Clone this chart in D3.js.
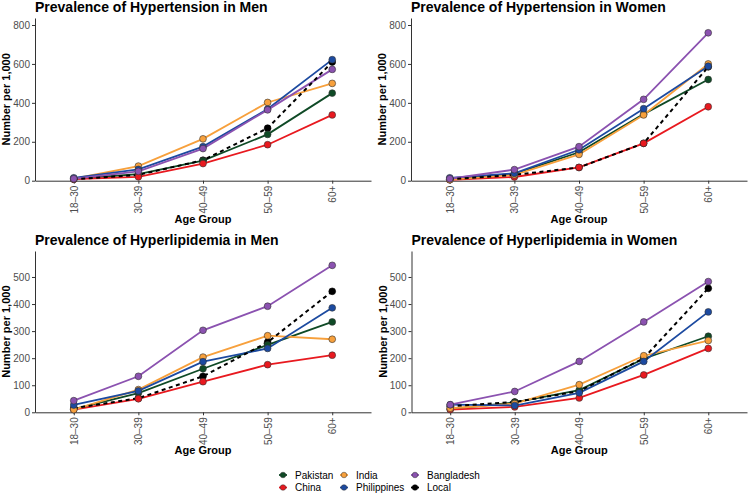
<!DOCTYPE html>
<html>
<head>
<meta charset="utf-8">
<script src="https://cdn.jsdelivr.net/npm/d3@7"></script>
<style>
  html, body { margin: 0; padding: 0; background: #fff; }
  svg { display: block; font-family: "Liberation Sans", Arial, Helvetica, sans-serif; }
</style>
</head>
<body>
<svg id="chart" width="750" height="494"></svg>
<script>
// ---------------- DATA ----------------
const ageGroups = ["18–30", "30–39", "40–49", "50–59", "60+"];
const countries = ["Pakistan", "China", "India", "Philippines", "Bangladesh", "Local"];
const legendOrder = ["Pakistan", "India", "Bangladesh", "China", "Philippines", "Local"];
const colors = ["#0f4a26", "#e8191f", "#f7a03c", "#1c4aa0", "#8b52b0", "#000000"];

const hypertensionTicks = [0, 200, 400, 600, 800];
const hyperlipidemiaTicks = [0, 100, 200, 300, 400, 500];

const hypertensionMen = {
  Pakistan:    [10, 34, 103, 238, 450],
  China:       [8, 20, 88, 185, 338],
  India:       [10, 75, 215, 402, 500],
  Philippines: [15, 58, 175, 368, 622],
  Bangladesh:  [10, 48, 165, 364, 572],
  Local:       [8, 30, 105, 270, 610]
};
const hypertensionWomen = {
  Pakistan:    [8, 35, 146, 342, 520],
  China:       [5, 19, 68, 192, 380],
  India:       [5, 30, 135, 338, 600],
  Philippines: [15, 38, 159, 370, 588],
  Bangladesh:  [10, 57, 175, 418, 760],
  Local:       [8, 30, 68, 192, 585]
};
const hyperlipidemiaMen = {
  Pakistan:    [12, 71, 161, 249, 334],
  China:       [10, 50, 113, 176, 211],
  India:       [10, 84, 204, 283, 270],
  Philippines: [27, 79, 187, 236, 386],
  Bangladesh:  [43, 133, 303, 392, 543],
  Local:       [15, 52, 133, 259, 447]
};
const hyperlipidemiaWomen = {
  Pakistan:    [12, 37, 82, 198, 281],
  China:       [10, 20, 53, 138, 236],
  India:       [15, 32, 102, 209, 265],
  Philippines: [28, 25, 72, 188, 371],
  Bangladesh:  [28, 77, 188, 334, 483],
  Local:       [22, 38, 78, 200, 458]
};

// ---------------- LAYOUT ----------------
const svg = d3.select("#chart");
const color = d3.scaleOrdinal().domain(countries).range(colors);

const panels = [
  { title: "Prevalence of Hypertension in Men", data: hypertensionMen, ticks: hypertensionTicks, ymax: 836,
    x0: 35, x1: 371, y0: 18, y1: 180.7 },
  { title: "Prevalence of Hypertension in Women", data: hypertensionWomen, ticks: hypertensionTicks, ymax: 836,
    x0: 411, x1: 747, y0: 18, y1: 180.7 },
  { title: "Prevalence of Hyperlipidemia in Men", data: hyperlipidemiaMen, ticks: hyperlipidemiaTicks, ymax: 596,
    x0: 35, x1: 371, y0: 251, y1: 412.3 },
  { title: "Prevalence of Hyperlipidemia in Women", data: hyperlipidemiaWomen, ticks: hyperlipidemiaTicks, ymax: 596,
    x0: 411.5, x1: 747, y0: 251, y1: 412.3 }
];

const axisColor = "#333";

panels.forEach(p => {
  const g = svg.append("g");
  const x = d3.scalePoint().domain(ageGroups).range([p.x0, p.x1]).padding(0.6);
  const y = d3.scaleLinear().domain([0, p.ymax]).range([p.y1, p.y0]);

  // title
  g.append("text")
    .attr("x", p.x0).attr("y", p.y0 - 6.5)
    .attr("font-size", 14).attr("font-weight", "bold").attr("fill", "#000")
    .text(p.title);

  // y axis
  const ya = g.append("g").attr("transform", `translate(${p.x0},0)`)
    .call(d3.axisLeft(y).tickValues(p.ticks).tickSize(3).tickSizeOuter(0).tickPadding(2));
  ya.select(".domain").attr("stroke", axisColor).attr("stroke-width", 1);
  ya.selectAll(".tick line").attr("stroke", axisColor);
  ya.selectAll(".tick text").attr("font-size", 10).attr("fill", "#4d4d4d")
    .attr("font-family", "Liberation Sans, Arial, sans-serif");

  // x axis
  const xa = g.append("g").attr("transform", `translate(0,${p.y1})`)
    .call(d3.axisBottom(x).tickSize(3).tickSizeOuter(0).tickPadding(2));
  xa.select(".domain").attr("stroke", axisColor).attr("stroke-width", 1);
  xa.selectAll(".tick line").attr("stroke", axisColor);
  xa.selectAll(".tick text")
    .attr("font-size", 10).attr("fill", "#4d4d4d")
    .attr("font-family", "Liberation Sans, Arial, sans-serif")
    .attr("transform", "translate(0,1) rotate(-90)")
    .attr("x", -4).attr("y", 0).attr("dy", "0.35em")
    .attr("text-anchor", "end");

  // axis titles
  g.append("text")
    .attr("x", (p.x0 + p.x1) / 2).attr("y", p.y1 + 42)
    .attr("text-anchor", "middle").attr("font-size", 11).attr("font-weight", "bold")
    .text("Age Group");
  g.append("text")
    .attr("transform", `translate(${p.x0 - 25},${(p.y0 + p.y1) / 2}) rotate(-90)`)
    .attr("text-anchor", "middle").attr("font-size", 11).attr("font-weight", "bold")
    .text("Number per 1,000");

  const line = d3.line().x((d, i) => x(ageGroups[i])).y(d => y(d));

  // lines
  countries.forEach(c => {
    g.append("path")
      .attr("d", line(p.data[c]))
      .attr("fill", "none")
      .attr("stroke", color(c))
      .attr("stroke-width", c === "Local" ? 2 : 1.8)
      .attr("stroke-dasharray", c === "Local" ? "4,3.5" : null);
  });

  // points: Local first, then others
  const pointOrder = ["Local", "Pakistan", "China", "India", "Philippines", "Bangladesh"];
  pointOrder.forEach(c => {
    g.selectAll(null).data(p.data[c]).enter().append("circle")
      .attr("cx", (d, i) => x(ageGroups[i]))
      .attr("cy", d => y(d))
      .attr("r", 3.4)
      .attr("fill", color(c))
      .attr("stroke", c === "Local" ? "#000" : "#333")
      .attr("stroke-width", 0.6);
  });
});

// ---------------- LEGEND ----------------
const legendX = [295, 356, 427];
const legendY = [475, 487.5];
legendOrder.forEach((c, i) => {
  const col = i % 3, row = Math.floor(i / 3);
  const tx = legendX[col], ty = legendY[row];
  const kx = tx - 12;
  const lg = svg.append("g");
  lg.append("line").attr("x1", kx - 4).attr("x2", kx + 4).attr("y1", ty).attr("y2", ty)
    .attr("stroke", color(c)).attr("stroke-width", 1.8);
  lg.append("circle").attr("cx", kx).attr("cy", ty).attr("r", 2.8)
    .attr("fill", color(c)).attr("stroke", c === "Local" ? "#000" : "#333").attr("stroke-width", 0.5);
  lg.append("text").attr("x", tx).attr("y", ty).attr("dy", "0.35em")
    .attr("font-size", 10).attr("fill", "#000").text(c);
});
</script>
</body>
</html>
